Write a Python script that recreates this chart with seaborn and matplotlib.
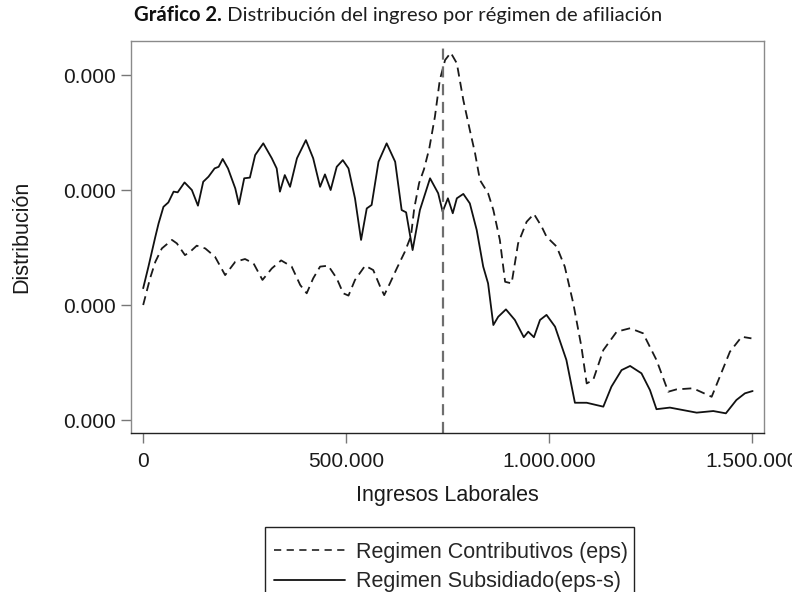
import numpy as np
import pandas as pd
import matplotlib
matplotlib.use("Agg")
import matplotlib.pyplot as plt
import seaborn as sns
from matplotlib.ticker import FuncFormatter, FixedLocator
from matplotlib.lines import Line2D
from matplotlib.patches import Rectangle

# ---------------- data ----------------
# x in thousands of pesos, y in units of 1e-6 (density)
x_subs_k = [0, 13, 30, 38, 50, 62, 75, 85, 102, 120, 135, 148, 161, 176, 186, 196,
            209, 227, 236, 249, 263, 276, 296, 317, 329, 337, 349, 362, 379, 401,
            419, 436, 448, 462, 477, 492, 506, 522, 537, 551, 563, 580, 600, 621,
            637, 648, 664, 682, 707, 727, 738, 751, 763, 773, 789, 805, 822, 838,
            850, 863, 875, 894, 916, 938, 949, 963, 978, 994, 1015, 1043, 1064,
            1093, 1134, 1154, 1179, 1200, 1228, 1249, 1265, 1298, 1364, 1405,
            1436, 1462, 1483, 1502]
y_subs_u = [0.573, 0.667, 0.797, 0.855, 0.927, 0.946, 0.993, 0.990, 1.033, 1.000,
            0.932, 1.036, 1.058, 1.094, 1.101, 1.135, 1.094, 1.007, 0.938, 1.051,
            1.054, 1.152, 1.203, 1.138, 1.094, 0.993, 1.065, 1.014, 1.138, 1.217,
            1.138, 1.014, 1.068, 1.000, 1.101, 1.130, 1.094, 0.964, 0.783, 0.920,
            0.935, 1.123, 1.203, 1.123, 0.913, 0.903, 0.739, 0.913, 1.051, 0.986,
            0.906, 0.964, 0.899, 0.964, 0.983, 0.942, 0.826, 0.667, 0.594, 0.413,
            0.449, 0.481, 0.435, 0.360, 0.384, 0.360, 0.435, 0.457, 0.406, 0.261,
            0.075, 0.075, 0.058, 0.145, 0.217, 0.235, 0.203, 0.130, 0.047, 0.054,
            0.032, 0.039, 0.029, 0.087, 0.116, 0.126]

x_contr_k = [0, 17, 30, 46, 71, 83, 103, 116, 132, 153, 177, 202, 227, 251, 272,
             294, 317, 340, 366, 387, 403, 419, 436, 456, 477, 493, 506, 522, 547,
             567, 584, 594, 608, 625, 645, 660, 668, 680, 692, 705, 719, 731, 744,
             758, 773, 789, 805, 818, 830, 850, 863, 879, 892, 908, 924, 945, 963,
             982, 994, 1019, 1039, 1060, 1080, 1093, 1109, 1134, 1167, 1200, 1232,
             1265, 1294, 1314, 1355, 1401, 1421, 1446, 1475, 1499]
y_contr_u = [0.500, 0.616, 0.688, 0.746, 0.783, 0.768, 0.717, 0.732, 0.758, 0.746,
             0.710, 0.630, 0.688, 0.700, 0.681, 0.609, 0.659, 0.694, 0.667, 0.587,
             0.551, 0.616, 0.667, 0.671, 0.616, 0.551, 0.541, 0.609, 0.671, 0.652,
             0.580, 0.543, 0.594, 0.659, 0.732, 0.800, 0.920, 1.030, 1.090, 1.180,
             1.319, 1.478, 1.565, 1.597, 1.551, 1.391, 1.261, 1.159, 1.043, 0.986,
             0.913, 0.783, 0.601, 0.594, 0.768, 0.862, 0.896, 0.841, 0.797, 0.754,
             0.667, 0.507, 0.319, 0.159, 0.174, 0.304, 0.384, 0.399, 0.377, 0.261,
             0.123, 0.133, 0.138, 0.101, 0.188, 0.297, 0.362, 0.355]

series_names = ["Regimen Contributivos (eps)", "Regimen Subsidiado(eps-s)"]
salario_minimo = 737717
x_ticks = [0, 500000, 1000000, 1500000]
y_ticks_u = [0.0, 0.5, 1.0, 1.5]

title_bold = "Gráfico 2."
title_rest = " Distribución del ingreso por régimen de afiliación"
xlabel = "Ingresos Laborales"
ylabel = "Distribución"

# ---------------- build table ----------------
df = pd.concat([
    pd.DataFrame({"x": np.array(x_contr_k) * 1000.0,
                  "y": np.array(y_contr_u) * 1e-6,
                  "serie": series_names[0]}),
    pd.DataFrame({"x": np.array(x_subs_k) * 1000.0,
                  "y": np.array(y_subs_u) * 1e-6,
                  "serie": series_names[1]}),
], ignore_index=True)

# ---------------- style ----------------
sns.set_style("ticks")
plt.rcParams["font.family"] = ["Liberation Sans", "DejaVu Sans"]

W, H = 792, 592
fig = plt.figure(figsize=(W / 100, H / 100), dpi=100)
ax = fig.add_axes([131 / W, 1 - 433 / H, (764 - 131) / W, (433 - 41) / H])

palette = {series_names[0]: "#1a1a1a", series_names[1]: "#111111"}
dashes = {series_names[0]: (5, 3), series_names[1]: ""}
sns.lineplot(data=df, x="x", y="y", hue="serie", style="serie",
             palette=palette, dashes=dashes, linewidth=1.3, ax=ax,
             legend=False, sort=False)

ax.axvline(salario_minimo, color="#6e6e6e", linewidth=1.6, linestyle=(0, (5, 3)))

ax.set_xlim(-30000, 1530000)
ax.set_ylim(-0.0565e-6, 1.648e-6)
ax.xaxis.set_major_locator(FixedLocator(x_ticks))
ax.yaxis.set_major_locator(FixedLocator([v * 1e-6 for v in y_ticks_u]))
ax.xaxis.set_major_formatter(FuncFormatter(lambda v, p: f"{int(round(v)):,}".replace(",", ".")))
ax.yaxis.set_major_formatter(FuncFormatter(lambda v, p: f"{v:.3f}"))

for s in ax.spines.values():
    s.set_color("#8a8a8a")
    s.set_linewidth(1.0)
ax.spines["bottom"].set_color("#222222")
ax.tick_params(axis="both", direction="out", length=7, width=1.0, color="#777777",
               labelsize=15, labelcolor="#1a1a1a")
ax.tick_params(axis="x", pad=7)
ax.tick_params(axis="y", pad=4)
ax.set_xlabel(xlabel, fontsize=15.5, color="#1a1a1a", labelpad=10)
ax.set_ylabel(ylabel, fontsize=15.5, color="#1a1a1a", labelpad=22)

# ---------------- legend (frame drawn as a box cut by the bottom edge) ----------------
handles = [Line2D([], [], color="#333333", linewidth=1.3, linestyle=(0, (4, 3))),
           Line2D([], [], color="#111111", linewidth=1.3)]
leg = fig.legend(handles, series_names, loc="upper center",
                 bbox_to_anchor=(451 / W, 1 - 542 / H), frameon=False,
                 fontsize=15.5, handlelength=3.3, handletextpad=0.5,
                 borderpad=0.0, labelspacing=0.38, borderaxespad=0)
r = fig.canvas.get_renderer()
bb = leg.get_window_extent(r)
box_left = bb.x0 - 9
box_right = bb.x1 + 6
box_top = H - 527
fig.patches.append(Rectangle((box_left / W, -0.05), (box_right - box_left) / W,
                             box_top / H + 0.05, transform=fig.transFigure,
                             fill=False, edgecolor="#222222", linewidth=1.0))

# ---------------- two-part title ----------------
tfont = ["Lato", "DejaVu Sans"]
tsize = 15
ty = 1 - 15 / H
t1 = fig.text(0, ty, title_bold, fontsize=tsize, fontweight="bold", family=tfont,
              va="center", ha="left", color="#111111")
t2 = fig.text(0, ty, title_rest, fontsize=tsize, family=tfont,
              va="center", ha="left", color="#1e1e1e")
w = t1.get_window_extent(r).width + t2.get_window_extent(r).width
tsize = tsize * 527 / w
t1.set_fontsize(tsize)
t2.set_fontsize(tsize)
w1 = t1.get_window_extent(r).width
w2 = t2.get_window_extent(r).width
x0 = 398 - (w1 + w2) / 2
t1.set_x(x0 / W)
t2.set_x((x0 + w1) / W)

fig.savefig("out.png", dpi=100)
